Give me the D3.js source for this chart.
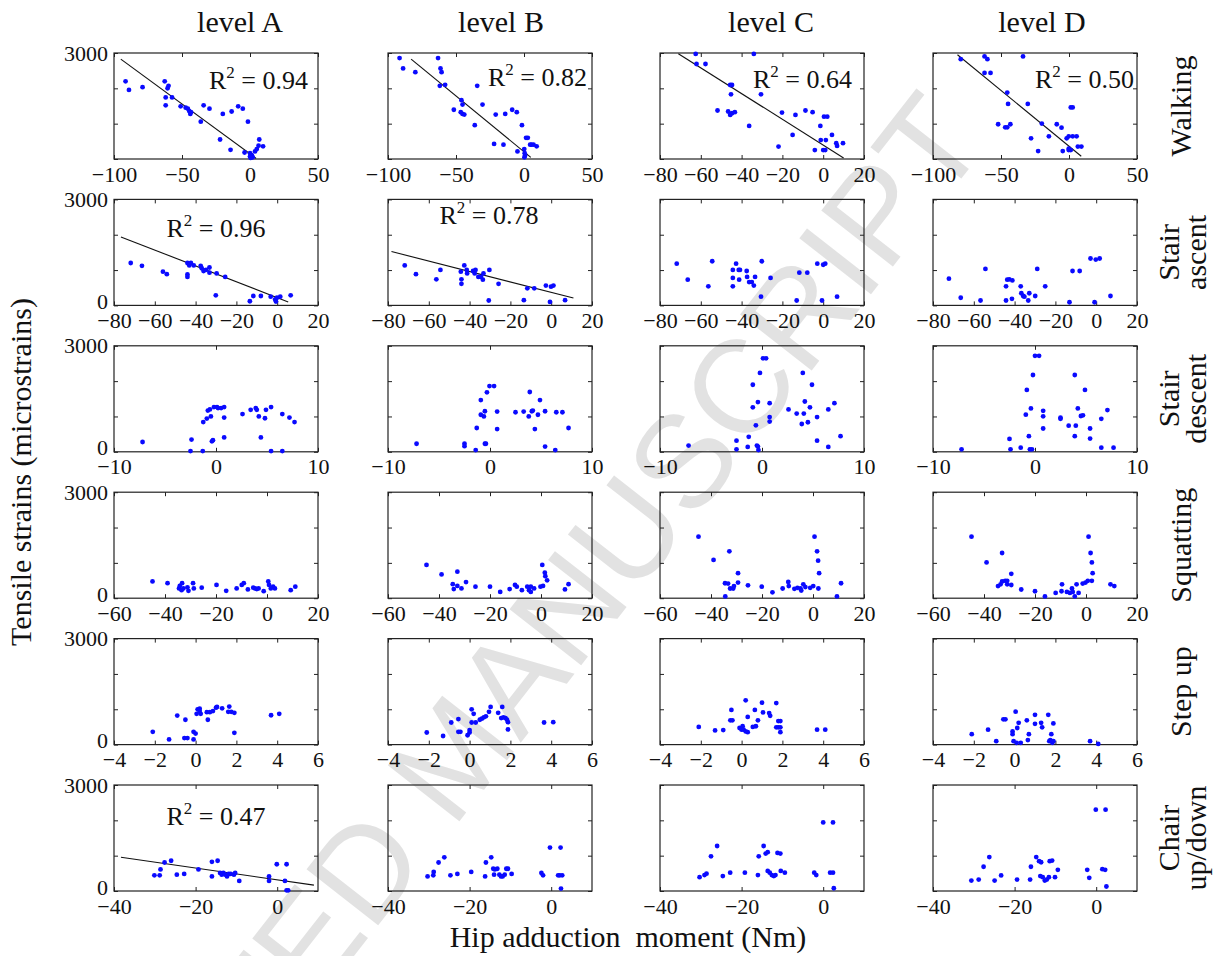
<!DOCTYPE html>
<html>
<head>
<meta charset="utf-8">
<script src="https://cdn.jsdelivr.net/npm/d3@7"></script>
<style>
  html, body { margin: 0; padding: 0; background: #fff; }
  svg text { font-family: "Liberation Serif", "Times New Roman", serif !important; fill: #111; white-space: pre; }
  .tick text { font-size: 22px; }
  .tick line { stroke: #222; stroke-width: 1; }
  .box { fill: none; stroke: #222; stroke-width: 1.2; }
  .fit { stroke: #111; stroke-width: 1.1; fill: none; }
  .dot { fill: #0a0aff; }
  .title { font-size: 30px; }
  .r2 { font-size: 26px; }
  svg text.watermark { font-family: "Liberation Sans", Arial, sans-serif !important; fill: #e2e2e2; }
</style>
</head>
<body>
<svg id="chart" width="1215" height="956"></svg>
<script>
// ---- categories --------------------------------------------------------
const levels = ["level A", "level B", "level C", "level D"];
const activities = [["Walking"], ["Stair", "ascent"], ["Stair", "descent"], ["Squatting"], ["Step up"], ["Chair", "up/down"]];

// ---- axes: x domains / ticks per activity and level ----------------------
const walkDomWide = [-100, 50], walkTicksWide = [-100, -50, 0, 50];
const walkDomNarrow = [-80, 20], walkTicksNarrow = [-80, -60, -40, -20, 0, 20];
const ascDom = [-80, 20], ascTicks = [-80, -60, -40, -20, 0, 20];
const descDom = [-10, 10], descTicks = [-10, 0, 10];
const squatDom = [-60, 20], squatTicks = [-60, -40, -20, 0, 20];
const stepDom = [-4, 6], stepTicks = [-4, -2, 0, 2, 4, 6];
const chairDom = [-40, 10], chairTicks = [-40, -20, 0];
const yDom = [0, 3000], yTicks = [0, 1000, 2000, 3000];
const yLabelsTopRow = [3000], yLabelsOther = [0, 3000];

// ---- Walking ------------------------------------------------------------
const walkA_x = [-91.5,-89,-79,-62.7,-60.6,-59.9,-62,-62,-57.3,-51,-47.3,-45.7,-44.7,-43.9,-43.4,-36.2,-34.1,-29.8,-20,-22,-14.3,-13.5,-8.7,-5.3,-1.5,-4,0,1,1.5,0,2,0.5,3.7,5,6.8,6.3,9.6];
const walkA_y = [2197,1955,2032,2197,2003,2071,1742,1519,1742,1490,1452,1423,1355,1277,1326,1055,1519,1423,1277,552,261,1345,1490,1423,1055,184,165,116,87,68,48,30,213,280,552,377,358];
const walkB_x = [-91.5,-88.9,-79.9,-63.2,-61.4,-60.6,-61.9,-58,-34.4,-46,-45.2,-51.6,-46.5,-45.2,-43.9,-36.2,-30.5,-20.8,-22,-15.1,-13.8,-8.7,-5.3,-1.5,-4.8,0.2,1.5,2.8,0.5,0.8,0.3,4.5,5.5,7,9.3];
const walkB_y = [2855,2564,2458,2855,2564,2458,2071,2100,2071,1664,1539,1394,1326,1277,1258,958,1539,1258,426,406,1277,1394,1326,958,213,280,600,600,165,97,48,406,406,406,358];
const walkC_x = [-62.5,-34,-62.1,-57.7,-45.6,-44.7,-45.2,-30.5,-51.8,-46.6,-44.7,-45.6,-43.3,-36.3,-20.2,-13.6,-8.7,-5.2,0.4,2,-1.4,-15,4.3,-1.2,1.3,-21.9,-4.1,0,1,6.4,6.8,9.7];
const walkC_y = [2975,2975,2688,2688,2094,2094,1831,1831,1373,1344,1295,1247,1325,935,1315,1247,1373,1325,1198,1198,935,682,682,536,536,351,253,253,253,448,370,448];
const walkD_x = [-79.6,-62.1,-60,-33.8,-62.1,-57.7,-45.4,-44.8,-30.3,-52.1,-46.9,-45.4,-43.1,-20,-9,-5.5,1.3,2.7,-14.8,-27.9,-1.7,-0.2,2.7,5.6,-22.7,-4.6,-0.2,1.3,-0.2,6.5,9.1];
const walkD_y = [2825,2902,2825,2902,2435,2435,1880,1558,1558,984,896,896,984,1003,984,886,1461,1461,643,584,584,643,643,643,224,224,253,253,292,351,351];

// ---- Stair ascent -------------------------------------------------------
const ascA_x = [-71.8,-66.3,-56,-54.1,-44,-43.1,-44,-44,-42.3,-40.9,-37.5,-37,-36.1,-34.9,-33.2,-33.2,-29.7,-25.5,-30.1,-13.4,-11.7,-8,-3.2,-1,-0.6,-0.1,1.5,6.6];
const ascA_y = [1200,1121,954,885,1200,1131,875,807,1200,1131,1121,1052,974,1003,1072,925,905,807,285,118,266,266,246,167,108,216,246,285];
const ascB_x = [-71.8,-66.3,-56.3,-54.3,-44.3,-44,-44,-42.6,-41.4,-41.2,-38.3,-37.1,-37.5,-35.7,-34.4,-33.5,-33.2,-30.3,-30.6,-25.8,-13.4,-11.7,-8.3,-2.6,-0.6,-0.1,1.1,6.8];
const ascB_y = [1131,885,738,1003,954,738,610,1131,1003,905,974,1003,905,807,807,728,905,1003,138,610,148,482,482,561,98,531,561,148];
const ascC_x = [-71.8,-66.4,-56.3,-54.4,-44.3,-44.3,-44.3,-42.7,-41.4,-40.8,-41.2,-37.5,-37.3,-36.3,-35,-34,-33.4,-30.1,-30.5,-25.8,-13,-11.7,-7.8,-2.9,-0.6,0,1,6.8];
const ascC_y = [1180,728,541,1249,1003,777,541,1180,1003,1003,728,974,807,659,659,561,807,1249,246,777,138,925,925,1180,138,1151,1180,246];
const ascD_x = [-72.2,-66.4,-56.7,-54.3,-44.2,-44.2,-43.6,-42.6,-41.3,-41.1,-37,-36.7,-35.8,-35.2,-33.3,-32.8,-29.9,-28.9,-25,-13.1,-11.6,-8.1,-2.8,-0.8,-0.2,1.7,7];
const ascD_y = [757,216,138,1033,541,138,728,738,187,708,541,344,266,246,138,344,266,1033,541,89,974,974,1328,89,1298,1328,266];

// ---- Stair descent ------------------------------------------------------
const descA_x = [-7.2,-2.4,-2.5,-1.3,-1.25,-0.9,-0.8,-0.6,-0.5,-0.4,-0.3,-0.2,0.1,0.2,0.5,0.8,0.8,0.8,2.6,3.4,3.9,4,4.2,4.4,4.8,4.9,5.4,5.4,6.5,6.5,7.2,7.7];
const descA_y = [277,347,20,20,842,941,1168,1198,1000,297,327,1267,1267,1238,1238,1267,970,406,1069,1188,1238,1188,1000,406,950,1188,1267,20,1069,20,970,842];
const descB_x = [-7.2,-2.5,-2.5,-1.4,-1.3,-0.9,-0.9,-0.6,-0.5,-0.5,-0.4,-0.3,-0.05,0.4,0.7,0.7,2.5,3.3,3.8,3.9,4.1,4.2,4.4,4.7,4.9,5.4,5.4,6.4,6.5,7.1,7.7];
const descB_y = [228,228,158,50,673,1465,1049,1000,1148,228,228,1683,1861,1861,1138,643,1119,1138,1000,1693,1148,1168,643,1049,1465,148,1148,50,1119,1119,673];
const descC_x = [-7.2,-2.5,-2.5,-1.4,-1.3,-0.9,-0.9,-0.6,-0.5,-0.4,-0.35,-0.4,-0.2,0.1,0.4,0.75,0.75,0.75,2.6,3.4,4,4.1,3.9,4.2,4.5,4.7,4.9,5.4,5.4,6.5,6.5,7.1,7.7];
const descC_y = [177,315,69,138,423,1898,1259,748,177,148,49,1406,2233,2646,2646,1377,984,856,1200,1082,2233,1082,787,1423,836,1259,1898,984,315,138,1200,1377,443];
const descD_x = [-7.2,-2.5,-2.4,-1.4,-0.9,-0.8,-0.6,-0.4,-0.5,-0.3,-0.2,0,0.4,0.8,0.8,0.8,2.5,2.5,3.3,3.9,4,3.9,4.2,4.5,4.7,4.9,5.4,5.4,6.5,6.5,7.1,7.7];
const descD_y = [69,364,69,118,1052,1751,443,1229,69,69,2174,2715,2715,1161,1003,659,934,964,738,2174,738,443,1229,1013,1033,1751,659,374,934,118,1180,118];

// ---- Squatting ----------------------------------------------------------
const squatA_x = [-44.9,-39,-34.5,-34.2,-33.3,-33.5,-32.8,-31.2,-30.8,-29,-28.7,-25.6,-19.8,-16,-11.9,-9.9,-9.1,-7.5,-5.4,-4.7,-4,-3.3,-1.3,0.5,0.8,1.5,2.4,3.1,9.3,11.1];
const squatA_y = [475,426,277,347,426,228,277,307,208,426,277,297,376,208,277,376,426,248,297,277,257,277,198,475,376,277,327,277,228,327];
const squatB_x = [-44.9,-39,-32.8,-34.6,-34.2,-32.8,-31.2,-29.4,-25.7,-20,-16,-12.3,-10.2,-9.5,-7.5,-5.4,-4.7,-4,-4,-2.7,0.5,1.5,1.7,2.4,-0.2,0.8,9.4,10.8];
const squatB_y = [941,673,752,396,257,347,277,455,327,327,178,257,376,327,228,327,228,327,178,277,941,723,624,505,327,347,248,396];
const squatC_x = [-44.9,-39,-32.8,-29.4,-34.5,-34.4,-33.3,-32.5,-31.3,-31,-29.4,-25.5,-20.1,-15.9,-11.9,-9.7,-9.5,-7.3,-6.1,-4.9,-4.6,-3.8,-3,-1.1,0.1,0.6,1.6,2,2.4,2.1,9.4,11];
const squatC_y = [1741,1082,1328,708,423,49,413,275,275,344,443,364,325,167,275,462,344,266,295,275,216,393,315,295,344,1741,1328,1062,708,275,49,423];
const squatD_x = [-44.9,-39,-32.9,-29.3,-34.5,-33.5,-32.9,-31.7,-30.9,-30.9,-29.3,-25.4,-20,-16.1,-11.9,-9.4,-9.6,-7.5,-6.3,-5.5,-5.2,-4.4,-3.7,-2.9,-1.3,-0.2,0.7,1,1.8,2.3,2.6,2.3,9.6,11.1];
const squatD_y = [1741,1013,1279,689,344,393,472,492,492,393,374,246,197,49,148,393,197,177,148,275,177,49,393,148,413,443,492,1741,1279,1013,708,492,393,344];

// ---- Step up ------------------------------------------------------------
const stepA_x = [-2.1,-1.3,-0.9,-0.5,-0.55,-0.4,-0.1,-0.1,0,0.05,0.1,0.2,0.25,0.2,0.6,0.55,0.7,0.85,1,1.05,1.3,1.65,1.6,1.75,1.9,1.9,3.7,4.1];
const stepA_y = [361,147,821,703,186,186,147,361,313,870,997,1016,870,948,703,918,918,948,1045,1065,1026,1075,928,928,899,332,830,870];
const stepB_x = [-2.1,-1.3,-0.9,-0.55,-0.55,-0.45,-0.1,0,0,0.1,0.3,0.1,0.2,0.5,0.6,0.7,0.8,0.95,1.03,1.4,1.6,1.55,1.66,1.76,1.83,1.88,1.88,3.65,4.1];
const stepB_y = [342,244,625,723,361,361,264,342,410,625,625,997,870,703,733,772,801,928,1065,899,1065,752,772,752,703,635,430,625,635];
const stepC_x = [-2.1,-1.3,-0.9,-0.5,-0.55,-0.45,-0.1,0,0.05,0.1,0.2,0.3,0.2,0.3,0.55,0.7,0.65,0.8,1,1.05,1.35,1.4,1.7,1.7,1.8,1.8,1.9,1.9,1.9,3.7,4.1];
const stepC_y = [500,402,412,980,686,686,470,421,519,421,372,353,1254,784,500,519,980,686,1186,911,892,813,1176,490,666,490,666,490,353,421,421];
const stepD_x = [-2.1,-1.3,-0.9,-0.55,-0.45,-0.1,-0.1,0.05,-0.05,0.1,0.3,0.13,0.2,0.6,0.7,0.65,1,1,1.3,1.35,1.65,1.7,1.75,1.85,1.9,1.8,1.9,3.7,4.1];
const stepD_y = [294,421,98,715,715,372,294,931,98,49,49,470,617,686,294,127,843,588,617,490,843,98,127,49,98,294,598,98,20];

// ---- Chair up/down ------------------------------------------------------
const chairA_x = [-30.1,-28.8,-28.6,-27.6,-26,-24.6,-22.8,-19.3,-16,-16,-14.6,-14,-13.6,-13.2,-12.7,-12.3,-11.9,-11.4,-10.6,-10.3,-9.3,-2,-2,-0.1,1.9,2.3,2.3,2.7];
const chairA_y = [443,443,610,807,856,462,482,610,413,826,856,511,462,511,462,413,482,482,462,511,285,413,285,757,285,757,20,20];
const chairB_x = [-30.3,-28.9,-28.8,-27.6,-26.2,-24.7,-23,-19.6,-16.2,-16,-14.7,-14.2,-13.8,-13.2,-14,-12.7,-12.3,-11.9,-11.4,-11,-10.6,-9.7,-2.4,-2,-0.3,2.3,1.7,2.1,2.7,2.4];
const chairB_y = [413,443,541,807,954,443,482,541,413,807,954,630,610,630,462,462,413,413,462,630,630,482,511,443,1229,1229,443,443,443,69];
const chairC_x = [-30.3,-29.1,-28.6,-27.5,-26,-24.6,-22.8,-19.2,-16,-15.8,-14.6,-14.1,-13.6,-13.6,-13.1,-12.6,-12.1,-11.7,-11.2,-10.5,-10.4,-9.4,-2.2,-1.7,0,2.4,1.7,2.4,2.6];
const chairC_y = [392,451,490,980,1274,421,519,519,451,980,1274,1058,1098,568,519,451,421,451,1078,1058,568,519,519,451,1940,1940,519,519,78];
const chairD_x = [-30.6,-28.8,-27.6,-26.2,-24.9,-23.3,-19.4,-16.2,-16,-14.7,-14,-13.5,-13.7,-13.1,-12.6,-12.1,-11.6,-11.4,-10.8,-10.1,-9.4,-2.2,-1.7,-0.1,2.3,1.5,2.2,2.5];
const chairD_y = [294,323,686,960,294,441,323,323,686,960,843,813,421,392,294,323,392,843,862,392,598,598,372,2303,2303,617,598,127];

// ---- regression lines [x0, y0, x1, y1] and R^2 values --------------------
const walkFitA = [-95, 2826, 4.5, 19];
const walkFitB = [-83, 2826, 5, 48];
const walkFitC = [-71, 2980, 10, 30];
const walkFitD = [-82, 2950, 9, 78];
const ascFitA = [-76.6, 1938, 5.4, 98];
const ascFitB = [-78.3, 1525, 10.9, 207];
const chairFitA = [-38.3, 954, 9, 167];
const walkR2 = ["0.94", "0.82", "0.64", "0.50"];
const ascR2 = ["0.96", "0.78"];
const chairR2 = ["0.47"];

// ---- panel table assembled from the arrays above --------------------------
const P = (x, y, dom, ticks, fit, r2) => ({ x, y, dom, ticks, fit, r2 });
const panels = [
  [P(walkA_x, walkA_y, walkDomWide, walkTicksWide, walkFitA, walkR2[0]),
   P(walkB_x, walkB_y, walkDomWide, walkTicksWide, walkFitB, walkR2[1]),
   P(walkC_x, walkC_y, walkDomNarrow, walkTicksNarrow, walkFitC, walkR2[2]),
   P(walkD_x, walkD_y, walkDomWide, walkTicksWide, walkFitD, walkR2[3])],
  [P(ascA_x, ascA_y, ascDom, ascTicks, ascFitA, ascR2[0]),
   P(ascB_x, ascB_y, ascDom, ascTicks, ascFitB, ascR2[1]),
   P(ascC_x, ascC_y, ascDom, ascTicks),
   P(ascD_x, ascD_y, ascDom, ascTicks)],
  [P(descA_x, descA_y, descDom, descTicks),
   P(descB_x, descB_y, descDom, descTicks),
   P(descC_x, descC_y, descDom, descTicks),
   P(descD_x, descD_y, descDom, descTicks)],
  [P(squatA_x, squatA_y, squatDom, squatTicks),
   P(squatB_x, squatB_y, squatDom, squatTicks),
   P(squatC_x, squatC_y, squatDom, squatTicks),
   P(squatD_x, squatD_y, squatDom, squatTicks)],
  [P(stepA_x, stepA_y, stepDom, stepTicks),
   P(stepB_x, stepB_y, stepDom, stepTicks),
   P(stepC_x, stepC_y, stepDom, stepTicks),
   P(stepD_x, stepD_y, stepDom, stepTicks)],
  [P(chairA_x, chairA_y, chairDom, chairTicks, chairFitA, chairR2[0]),
   P(chairB_x, chairB_y, chairDom, chairTicks),
   P(chairC_x, chairC_y, chairDom, chairTicks),
   P(chairD_x, chairD_y, chairDom, chairTicks)]
];

// ---- layout -------------------------------------------------------------
const colLeft = [114, 388, 660, 933];
const rowTop = [53, 199.4, 345.8, 492.2, 638.6, 785];
const pw = 204, ph = 106;
const titleX = [240, 501, 771, 1042];
const r2Layout = {
  "0,0": { x: 194, y: 36, anchor: "end" },
  "0,1": { x: 199, y: 33, anchor: "end" },
  "0,2": { x: 192, y: 35, anchor: "end" },
  "0,3": { x: 201, y: 35, anchor: "end" },
  "1,0": { x: 102, y: 38, anchor: "middle" },
  "1,1": { x: 101, y: 25, anchor: "middle" },
  "5,0": { x: 102, y: 40, anchor: "middle" }
};

const svg = d3.select("#chart");

// diagonal manuscript watermark, underneath the panels
svg.append("text").attr("class", "watermark")
  .attr("transform", "translate(990,142) rotate(-52)")
  .attr("text-anchor", "end").style("font-size", "132px")
  .text("ACCEPTED MANUSCRIPT");

panels.forEach((row, r) => {
  row.forEach((p, c) => {
    const g = svg.append("g").attr("transform", `translate(${colLeft[c]},${rowTop[r]})`);
    const x = d3.scaleLinear().domain(p.dom).range([0, pw]);
    const y = d3.scaleLinear().domain(yDom).range([ph, 0]);
    const shownY = r === 0 ? yLabelsTopRow : yLabelsOther;

    const clean = sel => sel.call(s => s.select(".domain").remove())
                           .attr("font-size", null).attr("font-family", null);

    g.append("g").attr("transform", `translate(0,${ph})`)
      .call(d3.axisBottom(x).tickValues(p.ticks).tickSize(-4).tickPadding(7).tickFormat(d3.format("d")))
      .call(clean);
    g.append("g")
      .call(d3.axisTop(x).tickValues(p.ticks).tickSize(-4).tickFormat(""))
      .call(clean);
    const yl = g.append("g")
      .call(d3.axisLeft(y).tickValues(yTicks).tickSize(-4).tickPadding(6)
        .tickFormat(d => (c === 0 && shownY.includes(d)) ? d3.format("d")(d) : ""))
      .call(clean);
    // the zero label sits a little above the bottom edge
    yl.selectAll(".tick text").filter(d => d === 0).attr("y", -4);
    g.append("g").attr("transform", `translate(${pw},0)`)
      .call(d3.axisRight(y).tickValues(yTicks).tickSize(-4).tickFormat(""))
      .call(clean);

    g.append("rect").attr("class", "box").attr("width", pw).attr("height", ph);

    if (p.fit) {
      const [x0, y0, x1, y1] = p.fit;
      g.append("line").attr("class", "fit")
        .attr("x1", x(x0)).attr("y1", y(y0)).attr("x2", x(x1)).attr("y2", y(y1));
    }

    g.selectAll("circle.dot").data(d3.range(p.x.length)).join("circle")
      .attr("class", "dot")
      .attr("cx", i => x(p.x[i])).attr("cy", i => y(p.y[i])).attr("r", 2.4);

    if (p.r2) {
      const pos = r2Layout[`${r},${c}`];
      const t = g.append("text").attr("class", "r2")
        .attr("x", pos.x).attr("y", pos.y).attr("text-anchor", pos.anchor);
      t.append("tspan").text("R");
      t.append("tspan").attr("dy", -11).style("font-size", "17px").text("2");
      t.append("tspan").attr("dy", 11).text(" = " + p.r2);
    }
  });
});

// column titles
levels.forEach((lv, c) => {
  svg.append("text").attr("class", "title").attr("x", titleX[c]).attr("y", 32)
    .attr("text-anchor", "middle").text(lv);
});

// activity labels on the right
activities.forEach((lines, r) => {
  const yc = rowTop[r] + ph / 2;
  const base = lines.length === 1 ? 1191 : 1179;
  lines.forEach((ln, k) => {
    svg.append("text").attr("class", "title")
      .attr("transform", `translate(${base + k * 27},${yc}) rotate(-90)`)
      .attr("text-anchor", "middle").text(ln);
  });
});

// axis titles
svg.append("text").attr("class", "title")
  .attr("transform", "translate(31,472) rotate(-90)")
  .attr("text-anchor", "middle").text("Tensile strains (microstrains)");
svg.append("text").attr("class", "title")
  .attr("x", 628).attr("y", 947).attr("text-anchor", "middle")
  .text("Hip adduction  moment (Nm)");
</script>
</body>
</html>
